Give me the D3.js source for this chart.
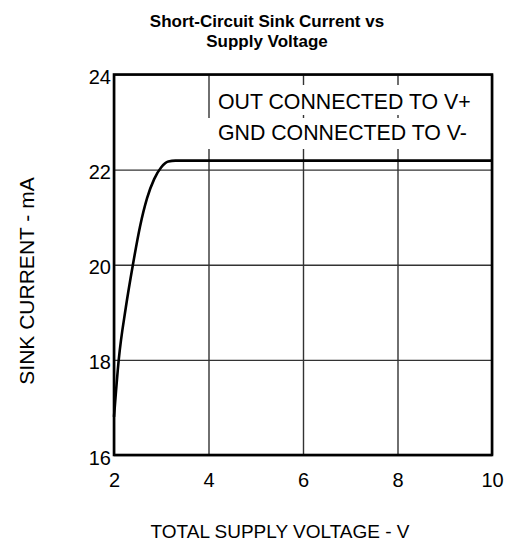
<!DOCTYPE html>
<html>
<head>
<meta charset="utf-8">
<script src="https://cdn.jsdelivr.net/npm/d3@7"></script>
<style>
  body { margin: 0; background: #fff; }
  text { font-family: "Liberation Sans", Arial, sans-serif; }
</style>
</head>
<body>
<script>

var margin = {top: 74.5, right: 18, bottom: 86, left: 114},
    width = 510 - margin.left - margin.right,
    height = 541 - margin.top - margin.bottom;

// supply voltage (V) and sink current (mA)
var voltage = [2.0, 2.1, 2.25, 2.4, 2.55, 2.7, 2.85, 3.0, 3.15, 3.3, 3.5, 10];
var current = [16.8, 18.0, 19.1, 20.0, 20.8, 21.4, 21.8, 22.05, 22.17, 22.19, 22.19, 22.19];

var xTicks = [2, 4, 6, 8, 10];
var yTicks = [16, 18, 20, 22, 24];
var legendLines = ["OUT CONNECTED TO V+", "GND CONNECTED TO V-"];

var data = voltage.map(function(v, i) { return {v: v, i: current[i]}; });

var x = d3.scaleLinear().domain([2, 10]).range([0, width]);
var y = d3.scaleLinear().domain([16, 24]).range([height, 0]);

var svg = d3.select("body").append("svg")
    .attr("width", 510)
    .attr("height", 541);

// title
svg.append("text")
    .attr("x", 267).attr("y", 27)
    .attr("text-anchor", "middle")
    .style("font-size", "17px").style("font-weight", "bold")
    .text("Short-Circuit Sink Current vs");
svg.append("text")
    .attr("x", 267).attr("y", 47)
    .attr("text-anchor", "middle")
    .style("font-size", "17px").style("font-weight", "bold")
    .text("Supply Voltage");

var main = svg.append("g")
    .attr("transform", "translate(" + margin.left + "," + margin.top + ")");

// grid
main.append("g")
    .attr("class", "grid")
    .call(d3.axisBottom(x).tickValues(xTicks).tickSize(height).tickFormat(""))
    .call(function(g) { g.select(".domain").remove(); })
    .selectAll("line").attr("stroke", "#333").attr("stroke-width", 1.4);

main.append("g")
    .attr("class", "grid")
    .call(d3.axisLeft(y).tickValues(yTicks).tickSize(-width).tickFormat(""))
    .call(function(g) { g.select(".domain").remove(); })
    .selectAll("line").attr("stroke", "#333").attr("stroke-width", 1.4);

// legend text with white boxes over the grid
var lg = main.append("g");
lg.append("rect")
    .attr("x", x(4) + 4).attr("y", 85 - margin.top)
    .attr("width", 266).attr("height", 30)
    .attr("fill", "#fff");
lg.append("rect")
    .attr("x", x(4) - 4).attr("y", 118 - margin.top)
    .attr("width", 274).attr("height", 31)
    .attr("fill", "#fff");
lg.selectAll("text")
    .data(legendLines)
    .enter().append("text")
    .attr("x", 218 - margin.left)
    .attr("y", function(d, i) { return 109 - margin.top + i * 31; })
    .style("font-size", "21.3px")
    .text(function(d) { return d; });

// curve
var line = d3.line()
    .x(function(d) { return x(d.v); })
    .y(function(d) { return y(d.i); })
    .curve(d3.curveMonotoneX);

main.append("path")
    .datum(data)
    .attr("fill", "none")
    .attr("stroke", "#000")
    .attr("stroke-width", 2.6)
    .attr("d", line);

// frame
main.append("rect")
    .attr("width", width).attr("height", height)
    .attr("fill", "none")
    .attr("stroke", "#000")
    .attr("stroke-width", 2.6);

// tick labels
var xAxis = d3.axisBottom(x).tickValues(xTicks).tickSize(0).tickPadding(18);
main.append("g")
    .attr("transform", "translate(0," + height + ")")
    .call(xAxis)
    .call(function(g) { g.select(".domain").remove(); })
    .selectAll("text")
    .style("font-size", "20px").attr("fill", "#000")
    .style("font-family", "Liberation Sans, Arial, sans-serif");

var yAxis = d3.axisLeft(y).tickValues(yTicks).tickSize(0).tickPadding(3);
main.append("g")
    .call(yAxis)
    .call(function(g) { g.select(".domain").remove(); })
    .selectAll("text")
    .attr("dy", "0.45em")
    .style("font-size", "20px").attr("fill", "#000")
    .style("font-family", "Liberation Sans, Arial, sans-serif");

// axis titles
svg.append("text")
    .attr("x", 280).attr("y", 538)
    .attr("text-anchor", "middle")
    .style("font-size", "19px")
    .text("TOTAL SUPPLY VOLTAGE - V");

svg.append("text")
    .attr("transform", "translate(34," + 281 + ") rotate(-90)")
    .attr("text-anchor", "middle")
    .style("font-size", "21px")
    .text("SINK CURRENT - mA");

</script>
</body>
</html>
